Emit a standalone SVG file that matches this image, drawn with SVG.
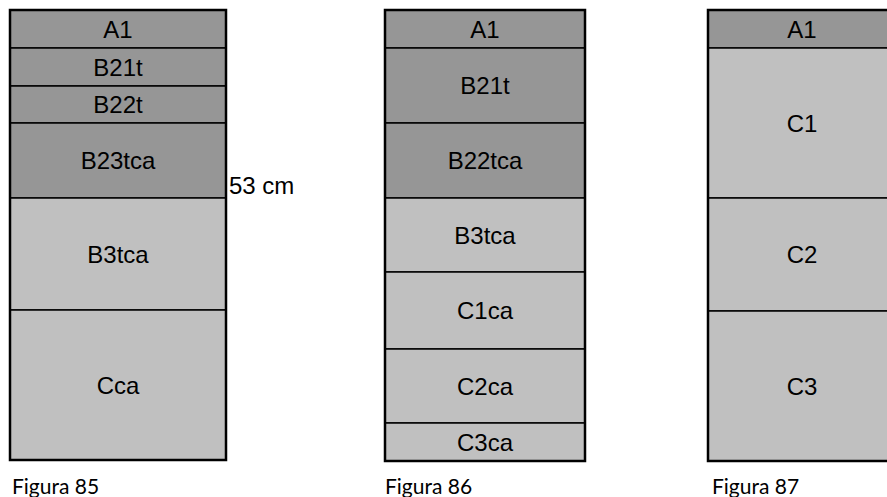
<svg xmlns="http://www.w3.org/2000/svg" width="887" height="497" viewBox="0 0 887 497">
<style>
.d{fill:#969696;stroke:#000;stroke-width:1.5}
.l{fill:#c0c0c0;stroke:#000;stroke-width:1.5}
.o{fill:none;stroke:#000;stroke-width:2.5}
.t{font-family:"Liberation Sans",Arial,sans-serif;font-size:24px;fill:#000;text-anchor:middle}
.f{font-family:Lato,"Noto Sans",sans-serif;font-size:21px;fill:#000}
</style>
<rect width="887" height="497" fill="#fff"/>
<g id="fig85">
<rect class="d" x="10" y="10" width="216" height="38"/>
<rect class="d" x="10" y="48" width="216" height="38"/>
<rect class="d" x="10" y="86" width="216" height="37"/>
<rect class="d" x="10" y="123" width="216" height="75"/>
<rect class="l" x="10" y="198" width="216" height="112"/>
<rect class="l" x="10" y="310" width="216" height="150"/>
<rect class="o" x="10" y="10" width="216" height="450"/>
<text class="t" x="118" y="38">A1</text>
<text class="t" x="118" y="76">B21t</text>
<text class="t" x="118" y="113">B22t</text>
<text class="t" x="118" y="169">B23tca</text>
<text class="t" x="118" y="263">B3tca</text>
<text class="t" x="118" y="394">Cca</text>
<text class="t" x="229" y="194" style="text-anchor:start">53 cm</text>
<text class="f" x="12" y="494">Figura 85</text>
</g>
<g id="fig86">
<rect class="d" x="385" y="10" width="200" height="38"/>
<rect class="d" x="385" y="48" width="200" height="75"/>
<rect class="d" x="385" y="123" width="200" height="75"/>
<rect class="l" x="385" y="198" width="200" height="74"/>
<rect class="l" x="385" y="272" width="200" height="77"/>
<rect class="l" x="385" y="349" width="200" height="74"/>
<rect class="l" x="385" y="423" width="200" height="38"/>
<rect class="o" x="385" y="10" width="200" height="451"/>
<text class="t" x="485" y="38">A1</text>
<text class="t" x="485" y="94">B21t</text>
<text class="t" x="485" y="169">B22tca</text>
<text class="t" x="485" y="244">B3tca</text>
<text class="t" x="485" y="319">C1ca</text>
<text class="t" x="485" y="395">C2ca</text>
<text class="t" x="485" y="451">C3ca</text>
<text class="f" x="385" y="494">Figura 86</text>
</g>
<g id="fig87">
<rect class="d" x="708" y="10" width="190" height="38"/>
<rect class="l" x="708" y="48" width="190" height="150"/>
<rect class="l" x="708" y="198" width="190" height="113"/>
<rect class="l" x="708" y="311" width="190" height="150"/>
<rect class="o" x="708" y="10" width="190" height="451"/>
<text class="t" x="802" y="38">A1</text>
<text class="t" x="802" y="132">C1</text>
<text class="t" x="802" y="263">C2</text>
<text class="t" x="802" y="395">C3</text>
<text class="f" x="712" y="494">Figura 87</text>
</g>
<g id="connectors"/>
</svg>
